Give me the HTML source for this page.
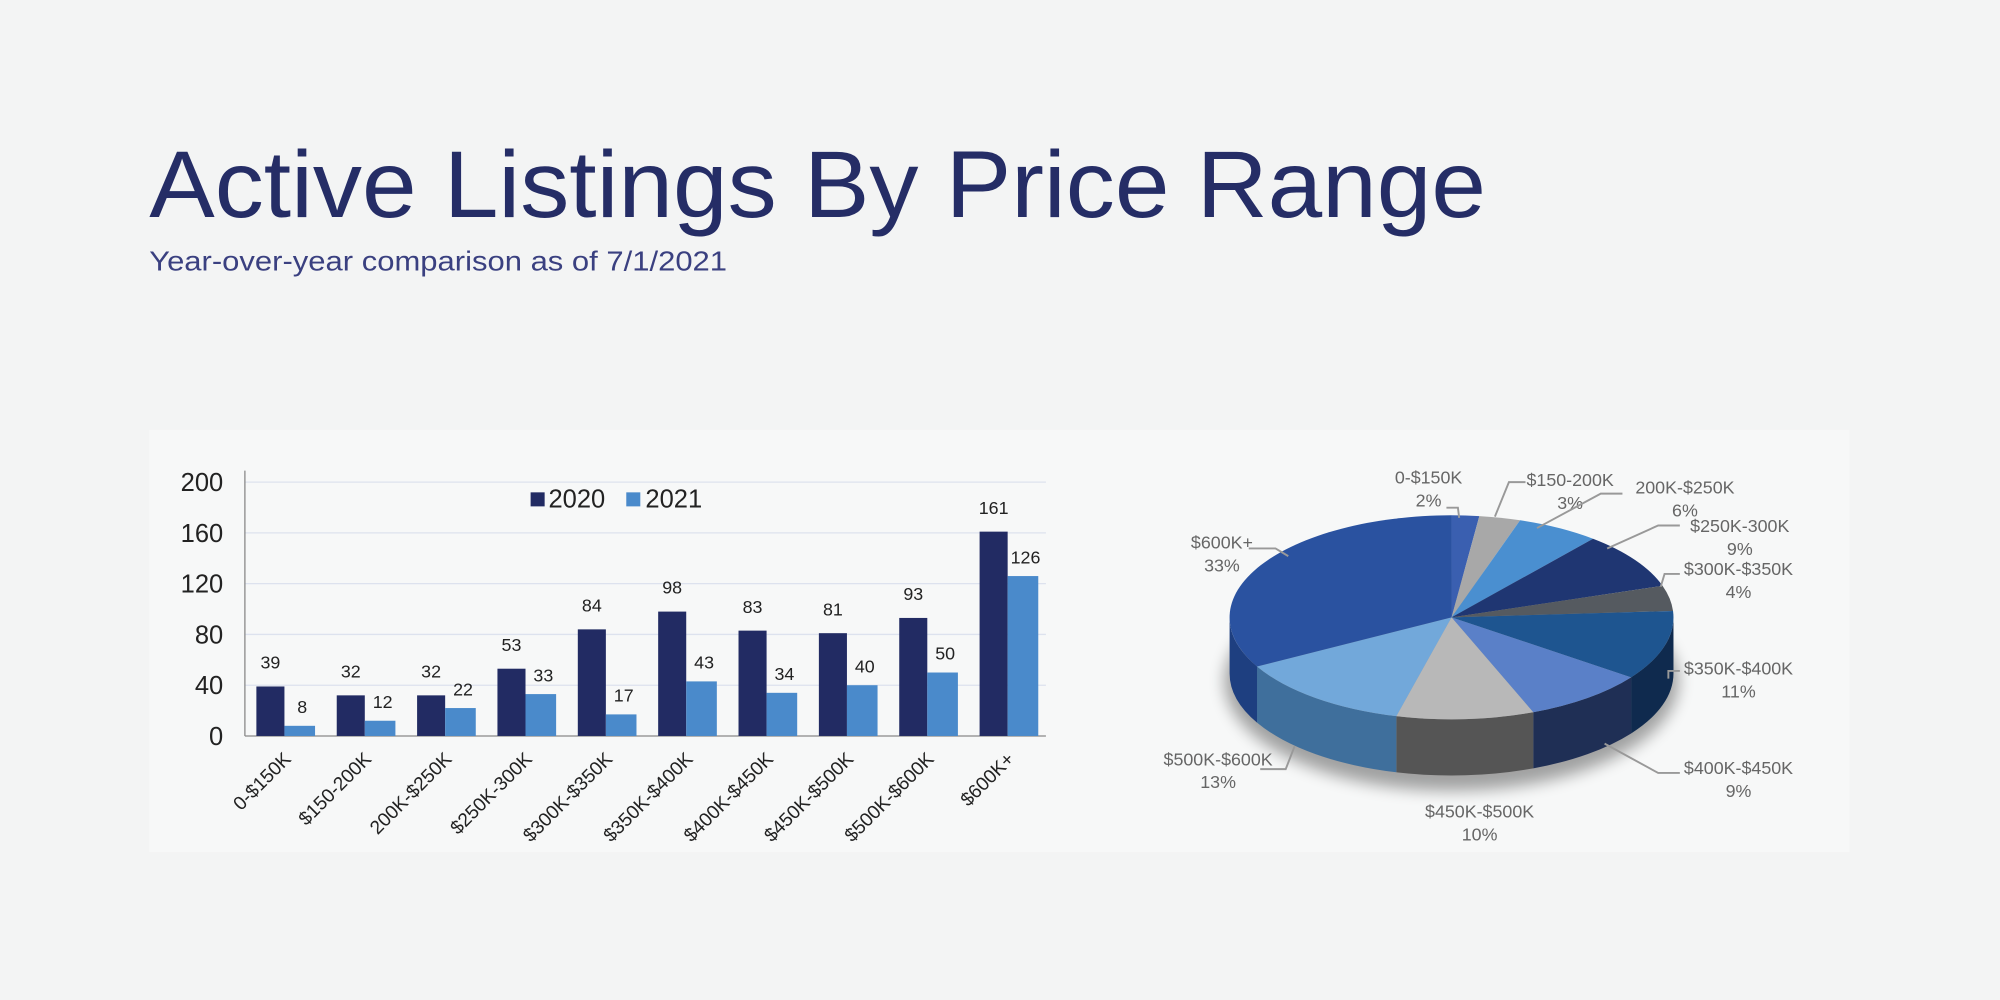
<!DOCTYPE html>
<html><head><meta charset="utf-8"><style>
html,body{margin:0;padding:0;background:#f3f4f4;}
svg{display:block;font-family:"Liberation Sans",sans-serif;}
</style></head><body>
<svg id="s" width="2000" height="1000" viewBox="0 0 1568 784" xmlns="http://www.w3.org/2000/svg">
<rect width="1568" height="784" fill="#f3f4f4"/>
<rect x="117" y="337" width="1333" height="331" fill="#f7f8f8"/>
<text x="117" y="170" font-size="74" fill="#252d66" textLength="1048" lengthAdjust="spacingAndGlyphs">Active Listings By Price Range</text>
<text x="117" y="212" font-size="22" fill="#3a4080" textLength="453" lengthAdjust="spacingAndGlyphs">Year-over-year comparison as of 7/1/2021</text>
<g id="bar"></g>
<g id="pie"></g>
</svg>
<script>
var NS="http://www.w3.org/2000/svg";
function el(p,t,a,txt){var e=document.createElementNS(NS,t);for(var k in a)e.setAttribute(k,a[k]);if(txt!==undefined)e.textContent=txt;p.appendChild(e);return e;}
var bar=document.getElementById('bar');
var y0=577,sc=0.995;
for(var v=0;v<=200;v+=40){var y=y0-v*sc;
 if(v>0)el(bar,'line',{x1:192,x2:820,y1:y,y2:y,stroke:'#dde2ee','stroke-width':1});
 el(bar,'text',{x:175,y:y+7,'font-size':20,fill:'#222','text-anchor':'end'},v);}
el(bar,'line',{x1:192,x2:192,y1:369,y2:577,stroke:'#888','stroke-width':1});
el(bar,'line',{x1:192,x2:820,y1:577,y2:577,stroke:'#888','stroke-width':1});
var cats=["0-$150K","$150-200K","200K-$250K","$250K-300K","$300K-$350K","$350K-$400K","$400K-$450K","$450K-$500K","$500K-$600K","$600K+"];
var a=[39,32,32,53,84,98,83,81,93,161],b=[8,12,22,33,17,43,34,40,50,126];
for(var i=0;i<10;i++){var g=201+63*i;
 el(bar,'rect',{x:g,y:y0-a[i]*sc,width:22,height:a[i]*sc,fill:'#222b63'});
 el(bar,'rect',{x:g+22,y:y0-b[i]*sc,width:24,height:b[i]*sc,fill:'#4a8acb'});
 el(bar,'text',{x:g+11,y:y0-a[i]*sc-14,'font-size':14,fill:'#222','text-anchor':'middle'},a[i]);
 el(bar,'text',{x:g+36,y:y0-b[i]*sc-10,'font-size':14,fill:'#222','text-anchor':'middle'},b[i]);
 el(bar,'text',{x:g+28,y:596,'font-size':15,fill:'#222','text-anchor':'end',transform:'rotate(-45 '+(g+28)+' 596)'},cats[i]);}
el(bar,'rect',{x:416,y:386,width:11,height:11,fill:'#222b63'});
el(bar,'text',{x:430,y:398,'font-size':20,fill:'#222'},'2020');
el(bar,'rect',{x:491,y:386,width:11,height:11,fill:'#4a8acb'});
el(bar,'text',{x:506,y:398,'font-size':20,fill:'#222'},'2021');
// pie
var pie=document.getElementById('pie');
var cx=1138,cy=484,rx=174,ry=80,d=44;
var p=[2,3,6,9,4,11,9,10,13,33];
var topc=['#3a5fb0','#a8a8a8','#4a8fd0','#1f3672','#555a60','#1e5590','#5a80c8','#b8b8b8','#72a8da','#2a52a0'];
var sidec=['#2a4a90','#7a7a7a','#2f6aa8','#14244e','#3a3d42','#0f2a4e','#1f2f55','#555555','#3f6f9c','#1e3f80'];
var defs=el(pie,'defs',{});
var f=el(defs,'filter',{id:'sh',x:'-20%',y:'-20%',width:'140%',height:'160%'});
el(f,'feGaussianBlur',{stdDeviation:6});
el(pie,'ellipse',{cx:cx,cy:cy+d+6,rx:rx+4,ry:ry+6,fill:'#000',opacity:0.35,filter:'url(#sh)'});
function pt(t,dy){return [cx+rx*Math.cos(t),cy+dy+ry*Math.sin(t)];}
var t=-Math.PI/2,angs=[];
for(var i=0;i<10;i++){var t2=t+p[i]/100*2*Math.PI;angs.push([t,t2]);t=t2;}
for(var i=0;i<10;i++){var s=Math.max(angs[i][0],0),e=Math.min(angs[i][1],Math.PI);
 var s2=Math.max(angs[i][0],2*Math.PI),e2=Math.min(angs[i][1],3*Math.PI);
 [[s,e],[s2,e2]].forEach(function(r){if(r[1]<=r[0])return;
  var A=pt(r[0],0),B=pt(r[1],0),C=pt(r[1],d),D=pt(r[0],d);
  el(pie,'path',{d:'M'+A+' A'+rx+' '+ry+' 0 0 1 '+B+' L'+C+' A'+rx+' '+ry+' 0 0 0 '+D+' Z',fill:sidec[i]});});}
for(var i=0;i<10;i++){var A=pt(angs[i][0],0),B=pt(angs[i][1],0);var large=(angs[i][1]-angs[i][0])>Math.PI?1:0;
 el(pie,'path',{d:'M'+cx+','+cy+' L'+A+' A'+rx+' '+ry+' 0 '+large+' 1 '+B+' Z',fill:topc[i]});}
var labs=[["0-$150K","2%",1120,379],["$150-200K","3%",1231,381],["200K-$250K","6%",1321,387],["$250K-300K","9%",1364,417],["$300K-$350K","4%",1363,451],["$350K-$400K","11%",1363,529],["$400K-$450K","9%",1363,607],["$450K-$500K","10%",1160,641],["$500K-$600K","13%",955,600],["$600K+","33%",958,430]];
labs.forEach(function(l){el(pie,'text',{x:l[2],y:l[3],'font-size':14,fill:'#666','text-anchor':'middle'},l[0]);
 el(pie,'text',{x:l[2],y:l[3]+18,'font-size':14,fill:'#666','text-anchor':'middle'},l[1]);});
var lines=["1134,398 1143,398 1144,406","1196,378 1183,378 1172,405","1272,387 1255,387 1205,414","1317,412 1300,412 1260,430","1317,450 1305,450 1302,460","1317,526 1308,526 1308,532","1317,606 1300,606 1258,583","988,603 1008,603 1015,585","979,430 1000,430 1010,436"];
lines.forEach(function(q){el(pie,'polyline',{points:q,fill:'none',stroke:'#999','stroke-width':1.5});});
</script>
</body></html>
